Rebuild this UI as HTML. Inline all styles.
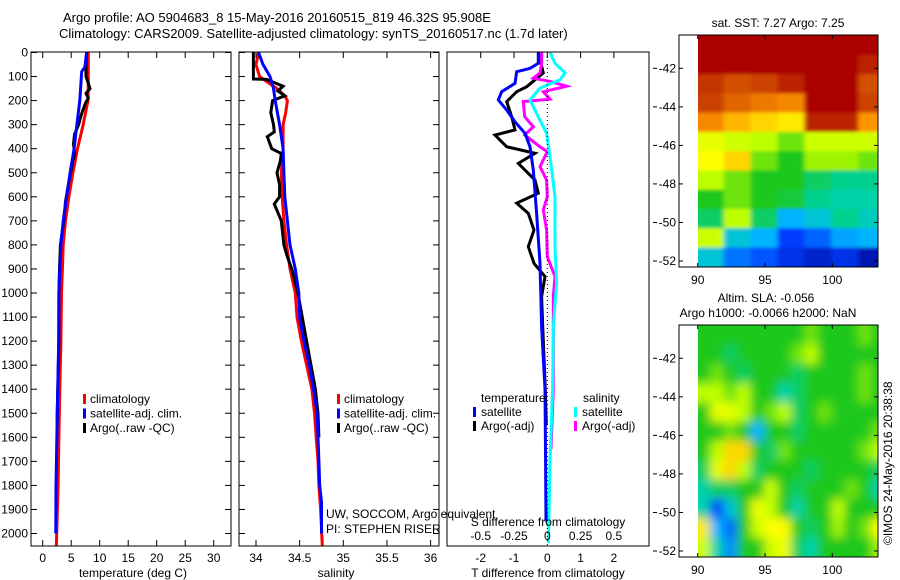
<!DOCTYPE html>
<html><head><meta charset="utf-8"><style>
html,body{margin:0;padding:0;background:#fff;}
svg{display:block;font-family:"Liberation Sans",sans-serif;}
text{font-size:12px;fill:#000;}
</style></head><body>
<svg id="fig" width="900" height="580" viewBox="0 0 900 580" xmlns="http://www.w3.org/2000/svg">
<defs>
<filter id="blurS" x="-5%" y="-5%" width="110%" height="110%"><feGaussianBlur stdDeviation="2.5 1.5"/></filter>
<filter id="blurL" x="-5%" y="-5%" width="110%" height="110%"><feGaussianBlur stdDeviation="5"/></filter>
<clipPath id="clipTop"><rect x="698" y="35" width="180" height="232"/></clipPath>
<clipPath id="clipBot"><rect x="698" y="325" width="180" height="232"/></clipPath>
</defs>
<text x="63" y="22" style="font-size:13px">Argo profile: AO 5904683_8 15-May-2016 20160515_819 46.32S 95.908E</text>
<text x="59" y="38" style="font-size:13px">Climatology: CARS2009. Satellite-adjusted climatology: synTS_20160517.nc (1.7d later)</text>
<g id="layer"></g>
</svg>
<script>
// ---------- data ----------
const tClimDepth = [0,100,200,300,400,500,600,700,800,900,1000,1200,1400,1600,1800,2000,2050];
const tClimVal   = [8.0,8.0,7.95,7.1,6.1,5.3,4.6,4.0,3.6,3.45,3.3,3.2,3.0,2.85,2.7,2.45,2.4];
const tSatDepth  = [0,60,80,200,300,400,500,600,700,800,900,1000,1200,1500,1800,2000];
const tSatVal    = [7.7,7.4,6.85,6.5,6.0,5.5,4.8,4.2,3.6,3.2,3.0,2.85,2.8,2.57,2.33,2.3];
const tArgoDepth = [0,50,100,120,150,170,190,210,250,300,340,380,420,450,500,550,620,650,700,800,900,1000,1200,1500,1550];
const tArgoVal   = [7.7,7.6,7.6,7.9,8.3,7.6,8.0,7.5,6.9,6.3,5.6,5.4,5.6,5.3,4.9,4.5,4.0,3.9,3.7,3.1,2.95,2.85,2.85,2.55,2.55];

const sClimDepth = [0,50,100,120,150,180,200,250,300,400,500,600,700,800,900,1000,1100,1200,1300,1400,1500,1600,1700,1800,1900,2050];
const sClimVal   = [34.03,34.0,34.04,34.12,34.24,34.33,34.36,34.34,34.31,34.31,34.29,34.3,34.32,34.35,34.39,34.45,34.47,34.52,34.58,34.64,34.67,34.69,34.71,34.72,34.74,34.76];
const sSatDepth  = [0,50,100,150,200,300,400,500,600,700,800,900,1000,1100,1200,1300,1400,1500,1600,1700,1800,1870,2000];
const sSatVal    = [34.03,34.08,34.16,34.2,34.22,34.27,34.31,34.32,34.33,34.36,34.39,34.45,34.49,34.5,34.55,34.61,34.66,34.7,34.71,34.72,34.73,34.75,34.75];
const sArgoDepth = [0,110,112,140,160,180,200,250,300,330,350,400,420,450,500,550,600,630,700,800,850,900,1000,1200,1400,1500,1600];
const sArgoVal   = [33.97,33.97,34.12,34.31,34.25,34.33,34.19,34.17,34.2,34.21,34.13,34.18,34.29,34.28,34.24,34.27,34.27,34.21,34.29,34.32,34.36,34.41,34.48,34.58,34.68,34.71,34.72];

const dtSatDepth  = [0,45,66,80,128,163,197,239,288,336,392,489,668,876,1140,1400,1700,1950];
const dtSatVal    = [-0.27,-0.27,-0.52,-0.92,-0.97,-1.37,-1.47,-1.22,-0.97,-0.67,-0.52,-0.42,-0.32,-0.22,-0.17,-0.07,-0.05,-0.04];
const dtArgoDepth = [0,85,142,163,204,267,322,343,392,419,461,530,585,626,669,738,807,877,932,1015,1200,1400,1550];
const dtArgoVal   = [-0.27,-0.12,-0.62,-0.92,-1.22,-1.07,-0.97,-1.57,-1.22,-0.37,-0.87,-0.37,-0.27,-0.92,-0.57,-0.4,-0.57,-0.4,-0.07,-0.17,-0.12,-0.06,-0.03];
const dsSatDepth  = [0,45,85,114,148,197,267,336,433,600,807,960,1140,1400,1700,2040];
const dsSatVal    = [0.02,0.058,0.133,0.095,-0.055,-0.13,-0.068,-0.005,0.02,0.058,0.058,0.07,0.045,0.04,0.02,0.008];
const dsArgoDepth = [0,45,85,107,120,140,163,194,204,267,309,343,392,412,475,530,600,655,738,849,932,1015,1140,1400,1650];
const dsArgoVal   = [-0.042,-0.042,-0.055,-0.105,0.02,0.146,-0.03,0.02,-0.18,-0.17,-0.105,-0.17,-0.055,0.0,-0.055,-0.005,0.0,-0.03,-0.005,0.0,0.058,0.045,0.045,0.045,0.028];

const depthTicks = [0,100,200,300,400,500,600,700,800,900,1000,1100,1200,1300,1400,1500,1600,1700,1800,1900,2000];
const tempTicks = [0,5,10,15,20,25,30];
const salTicks = [34,34.5,35,35.5,36];
const salTickLabels = ["34","34.5","35","35.5","36"];
const dtTicks = [-2,-1,0,1,2];
const dsTicks = [-0.5,-0.25,0,0.25,0.5];
const dsTickLabels = ["-0.5","-0.25","0","0.25","0.5"];
const latTicks = [-42,-44,-46,-48,-50,-52];
const lonTicks = [90,95,100];

// SST heatmap (0..1), rows lat -40.3 -> -52.3 (1 deg), cols lon 90..104 (2 deg)
const sstRows = [
 [1,1,1,1,1,1,1],
 [1,1,1,1,1,1,0.95],
 [0.92,0.88,0.9,0.95,1,1,0.88],
 [0.9,0.85,0.82,0.8,1,1,0.9],
 [0.8,0.75,0.72,0.7,0.95,0.95,0.78],
 [0.65,0.62,0.6,0.55,0.62,0.62,0.62],
 [0.68,0.72,0.55,0.5,0.58,0.58,0.55],
 [0.6,0.55,0.5,0.5,0.45,0.42,0.42],
 [0.5,0.55,0.5,0.48,0.42,0.4,0.4],
 [0.45,0.6,0.45,0.3,0.35,0.42,0.38],
 [0.62,0.35,0.3,0.15,0.2,0.28,0.3],
 [0.35,0.22,0.18,0.12,0.08,0.12,0.05]
];
// SLA heatmap, 1 deg cells
const slaRows = [
 [.5,.5,.5,.5,.5,.5,.5,.5,.55,.5,.5,.5,.55,.5],
 [.5,.5,.45,.5,.5,.5,.5,.55,.6,.5,.5,.5,.5,.5],
 [.5,.55,.5,.45,.5,.5,.5,.45,.5,.5,.5,.5,.55,.5],
 [.6,.6,.55,.6,.5,.5,.4,.45,.5,.5,.5,.5,.55,.5],
 [.5,.65,.65,.6,.5,.55,.6,.45,.5,.55,.5,.5,.5,.5],
 [.5,.5,.55,.5,.3,.5,.5,.45,.5,.5,.5,.5,.5,.55],
 [.5,.6,.72,.72,.5,.45,.55,.5,.5,.5,.5,.5,.55,.6],
 [.45,.65,.72,.6,.45,.5,.5,.5,.45,.5,.5,.5,.5,.45],
 [.4,.45,.45,.5,.5,.62,.5,.45,.5,.5,.5,.55,.5,.4],
 [.4,.15,.35,.5,.66,.6,.5,.4,.5,.5,.6,.5,.5,.5],
 [.7,.3,.2,.5,.62,.68,.68,.5,.45,.5,.58,.5,.55,.68],
 [.62,.4,.25,.5,.5,.62,.66,.45,.4,.5,.5,.5,.5,.58]
];

// ---------- helpers ----------
const NS="http://www.w3.org/2000/svg";
const layer=document.getElementById('layer');
function mk(tag,attrs,parent){const e=document.createElementNS(NS,tag);for(const k in attrs)e.setAttribute(k,attrs[k]);(parent||layer).appendChild(e);return e;}
function txt(x,y,s,anchor,parent,size){const e=mk('text',{x:x,y:y,'text-anchor':anchor||'start'},parent);if(size)e.style.fontSize=size+'px';e.textContent=s;return e;}

const yD = d => 52.5 + d*0.2405;
const xT = t => 42.7 + t*5.7;
const xS = s => 256 + (s-34)*87.3;
const xDT = v => 547.3 + v*33.3;
const xDS = v => 547.3 + v*133.2;
const yLatT = lat => 68.3 + (-42-lat)*19.27;
const yLatB = lat => 358.3 + (-42-lat)*19.27;
const xLon = lon => 697.7 + (lon-90)*13.46;

function stepPath(depths,vals,xf){
  let d='';
  for(let i=0;i<depths.length;i++){
    const x=xf(vals[i]).toFixed(1), y=yD(depths[i]).toFixed(1);
    d += (i===0?'M':'L')+x+','+y+' ';
  }
  return d;
}
function profile(depths,vals,xf,color,name,g){
  const p=mk('path',{d:stepPath(depths,vals,xf),fill:'none',stroke:color,'stroke-width':3,'stroke-linejoin':'miter'},g);
  
  
}
function frame(x0,x1,y0,y1,name){
  const r=mk('rect',{x:x0,y:y0,width:x1-x0,height:y1-y0,fill:'none',stroke:'#000','stroke-width':1});
  
  
}
function depthTicksFor(x0,x1,labels){
  depthTicks.forEach(d=>{
    const y=yD(d);
    mk('line',{x1:x0,y1:y,x2:x0+6,y2:y,stroke:'#000'});
    mk('line',{x1:x1,y1:y,x2:x1-6,y2:y,stroke:'#000'});
    if(labels){const t=txt(28,y+4,String(d),'end');
      
      }
  });
}

// ---------- panel 1: temperature ----------
const g1=mk('g',{});


frame(31,231,52,546,'temperature-axes-frame');
depthTicksFor(31,231,true);
tempTicks.forEach(t=>{
  const x=xT(t);
  mk('line',{x1:x,y1:52,x2:x,y2:58,stroke:'#000'});
  mk('line',{x1:x,y1:546,x2:x,y2:540,stroke:'#000'});
  const l=txt(x,562,String(t),'middle');
  
  
});
txt(133,577,'temperature (deg C)','middle');
profile(tClimDepth,tClimVal,xT,'#ff0000','temp-climatology-line',g1);
profile(tArgoDepth,tArgoVal,xT,'#000000','temp-argo-line',g1);
profile(tSatDepth,tSatVal,xT,'#0000ff','temp-satellite-line',g1);

function legend3(x,y,parent,prefix){
  const items=[['#ff0000','climatology'],['#0000ff','satellite-adj. clim.'],['#000000','Argo(..raw -QC)']];
  items.forEach((it,i)=>{
    const yy=y+i*14.5;
    const r=mk('rect',{x:x,y:yy-9,width:3,height:10,fill:it[0]},parent);
    
    
    const t=txt(x+7,yy,it[1],'start',parent);
    
    
  });
}
legend3(83,403,g1,'temperature');

// ---------- panel 2: salinity ----------
const g2=mk('g',{});


frame(239,439,52,546,'salinity-axes-frame');
depthTicksFor(239,439,false);
salTicks.forEach((s,i)=>{
  const x=xS(s);
  mk('line',{x1:x,y1:52,x2:x,y2:58,stroke:'#000'});
  mk('line',{x1:x,y1:546,x2:x,y2:540,stroke:'#000'});
  const l=txt(x,562,salTickLabels[i],'middle');
  
  
});
txt(336,577,'salinity','middle');
profile(sClimDepth,sClimVal,xS,'#ff0000','sal-climatology-line',g2);
profile(sArgoDepth,sArgoVal,xS,'#000000','sal-argo-line',g2);
profile(sSatDepth,sSatVal,xS,'#0000ff','sal-satellite-line',g2);
legend3(337,403,g2,'salinity');
const c1=txt(326,518,'UW, SOCCOM, Argo equivalent');

const c2=txt(326,533,'PI: STEPHEN RISER');


// ---------- panel 3: differences ----------
const g3=mk('g',{});


frame(447,649,52,546,'difference-axes-frame');
dtTicks.forEach(t=>{
  const x=xDT(t);
  mk('line',{x1:x,y1:52,x2:x,y2:58,stroke:'#000'});
  const l=txt(x,562,String(t),'middle');
  
  
});
dsTicks.forEach((s,i)=>{
  const l=txt(xDS(s),540,dsTickLabels[i],'middle');
  
  
});
mk('line',{x1:xDT(0),y1:52,x2:xDT(0),y2:546,stroke:'#000','stroke-dasharray':'1,3'});
profile(dtArgoDepth,dtArgoVal,xDT,'#000000','tdiff-argo-line',g3);
profile(dsArgoDepth,dsArgoVal,xDS,'#ff00ff','sdiff-argo-line',g3);
profile(dsSatDepth,dsSatVal,xDS,'#00ffff','sdiff-satellite-line',g3);
profile(dtSatDepth,dtSatVal,xDT,'#0000ff','tdiff-satellite-line',g3);
txt(481,402,'temperature');
txt(583,402,'salinity');
[[473,'#0000ff','satellite',416],[473,'#000000','Argo(-adj)',430],[574,'#00ffff','satellite',416],[574,'#ff00ff','Argo(-adj)',430]].forEach(it=>{
  const r=mk('rect',{x:it[0],y:it[3]-9,width:3,height:10,fill:it[1]},g3);
  
  
  const t=txt(it[0]+8,it[3],it[2],'start',g3);
  
  
});
txt(548,526,'S difference from climatology','middle');
txt(548,577,'T difference from climatology','middle');

// ---------- maps ----------
const cmapStops=[[0,[0,0,140]],[0.15,[0,60,255]],[0.3,[0,180,255]],[0.4,[0,210,170]],[0.5,[30,200,30]],[0.6,[190,255,0]],[0.68,[255,255,0]],[0.78,[255,150,0]],[0.88,[210,80,0]],[1,[170,0,0]]];
function cmap(v){
  v=Math.max(0,Math.min(1,v));
  for(let i=1;i<cmapStops.length;i++){
    const a=cmapStops[i-1],b=cmapStops[i];
    if(v<=b[0]){const f=(v-a[0])/(b[0]-a[0]);
      return 'rgb('+a[1].map((c,k)=>Math.round(c+(b[1][k]-c)*f)).join(',')+')';}
  }
  return 'rgb(170,0,0)';
}
function heatmap(rows,lonStep,yLat,clip,filt,name){
  const g=mk('g',{'clip-path':'url(#'+clip+')'});
  const gi=mk('g',{filter:'url(#'+filt+')'},g);
  
  
  rows.forEach((row,ri)=>{
    const latTop=-40.3-ri, latBot=latTop-1;
    row.forEach((v,ci)=>{
      const x0=xLon(90+ci*lonStep)-(ci===0?10:1), x1=xLon(90+(ci+1)*lonStep)+(ci===row.length-1?10:1);
      const y0=yLat(latTop)-(ri===0?12:0), y1=yLat(latBot)+(ri===rows.length-1?14:0);
      const r=mk('rect',{x:x0,y:y0,width:x1-x0,height:y1-y0+0.5,fill:cmap(v)},gi);
      
      
    });
  });
}
function mapAxes(y0,y1,yLat,prefix){
  frame(679,878,y0,y1,prefix+'-map-frame');
  latTicks.forEach(lat=>{
    const y=yLat(lat);
    mk('line',{x1:679,y1:y,x2:683,y2:y,stroke:'#000'});
    mk('line',{x1:878,y1:y,x2:874,y2:y,stroke:'#000'});
    mk('line',{x1:653,y1:y,x2:657,y2:y,stroke:'#000'});
    const t=txt(676,y+4,String(lat),'end');
    
    
  });
  lonTicks.forEach(lon=>{
    const x=xLon(lon);
    mk('line',{x1:x,y1:y0,x2:x,y2:y0+4,stroke:'#000'});
    mk('line',{x1:x,y1:y1,x2:x,y2:y1-4,stroke:'#000'});
    const t=txt(x,y1+17,String(lon),'middle');
    
    
  });
}
heatmap(sstRows,2,yLatT,'clipTop','blurS','sst-heatmap');
mapAxes(35,267,yLatT,'sst');
txt(778,27,'sat. SST: 7.27 Argo: 7.25','middle');
heatmap(slaRows,1,yLatB,'clipBot','blurL','sla-heatmap');
mapAxes(325,557,yLatB,'sla');
txt(766,302,'Altim. SLA: -0.056','middle');
txt(768,317,'Argo h1000: -0.0066 h2000: NaN','middle');
const st=mk('text',{x:0,y:0,transform:'translate(892,545) rotate(-90)'});
st.textContent='©IMOS 24-May-2016 20:38:38';


</script>
</body></html>
